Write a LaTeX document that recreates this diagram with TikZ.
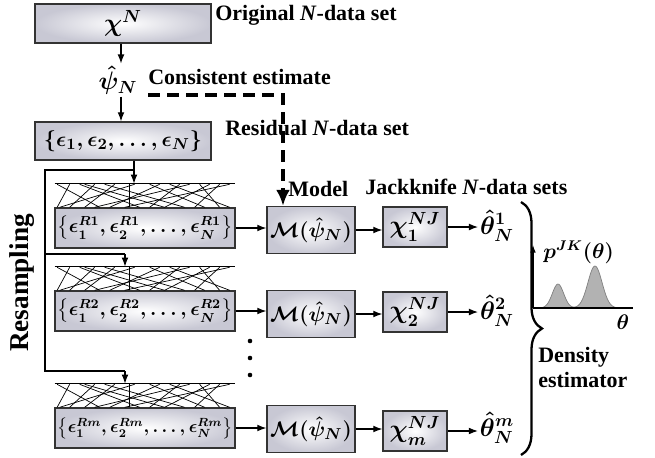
\documentclass[tikz,border=0pt]{standalone}
\usepackage{amsmath, amssymb}
\usepackage{graphicx}
\usepackage{fontspec}
\setmainfont{Liberation Serif}
\usepackage{xcolor}
\usepackage{tikz}
\usetikzlibrary{arrows.meta, positioning, decorations.pathreplacing}

\definecolor{boxedge}{RGB}{200,200,212}
\definecolor{peakgray}{RGB}{178,178,178}

% random crossing lines above a resampled set
\newcommand{\mixlines}[1]{%
  \draw (#1.north west) -- (#1.north east);
  \begin{scope}[shift={(#1.south west)}]
    \foreach \a/\b in {0.05/0.9, 0.3/0.05, 0.5/1.7, 0.8/0.3, 1.0/2.6, 1.2/0.6,
                       1.5/1.5, 1.6/0.1, 1.9/3.0, 2.1/1.1, 2.3/3.5, 2.5/1.9,
                       2.7/0.8, 2.9/3.3, 3.1/2.2, 3.3/2.8, 3.5/1.4, 0.6/2.2}
      \draw (\b,0) -- (\a,0.46);
  \end{scope}
}
% a resampled residual set, squeezed to the box
\newcommand{\rset}[1]{\resizebox{3.5cm}{!}{$\left\{\epsilon_1^{#1},\epsilon_2^{#1},\ldots,\epsilon_N^{#1}\right\}$}}

\begin{document}
\begin{tikzpicture}[
    node distance=0.6cm,
    box/.style={rectangle, draw=black!80, thick, inner color=white, outer color=boxedge, minimum height=0.8cm, align=center, font=\Large\boldmath, inner sep=1pt},
    rbox/.style={box, minimum width=3.6cm, font=\large\boldmath, inner sep=0pt},
    mbox/.style={box, minimum width=1.76cm, minimum height=0.94cm, font=\fontsize{12.8}{15}\selectfont\boldmath},
    jbox/.style={box, minimum width=1.28cm},
    mathlbl/.style={font=\Large\boldmath, inner sep=1pt},
    lbl/.style={font=\fontsize{12.5}{14.5}\selectfont\bfseries, inner sep=0pt, anchor=west, align=left},
    mix/.style={minimum width=3.6cm, minimum height=0.46cm, inner sep=0pt},
    arrow/.style={-{Latex[length=1.8mm]}, semithick},
    dasharrow/.style={-{Latex[length=3.2mm, width=2.8mm]}, line width=1.9pt, dash pattern=on 2.3mm off 1.5mm}
]
\useasboundingbox (0,0) rectangle (13.1,-9.14);

% original data and residuals
\node[box, minimum width=3.52cm, minimum height=0.78cm] (orig) at (2.46,-0.47) {$\chi^N$};
\node[mathlbl] (psi) at (2.36,-1.6) {$\hat{\psi}_N$};
\node[box, minimum width=3.52cm, minimum height=0.76cm, font=\fontsize{13}{15}\selectfont\boldmath] (res) at (2.46,-2.82) {$\{\epsilon_1,\epsilon_2,\ldots,\epsilon_N\}$};

\draw[arrow] (orig.south -| 2.42,0) -- (psi.north -| 2.42,0);
\draw[arrow] (psi.south -| 2.42,0) -- (res.north -| 2.42,0);

% resampled sets
\node[rbox] (R1) at (2.9,-4.56) {\rset{R1}};
\node[rbox] (R2) at (2.9,-6.22) {\rset{R2}};
\node[rbox] (Rm) at (2.9,-8.56) {\rset{Rm}};
\node[mix, above=0pt of R1] (mix1) {};
\node[mix, above=0pt of R2] (mix2) {};
\node[mix, above=0pt of Rm] (mixm) {};
\mixlines{mix1}
\mixlines{mix2}
\mixlines{mixm}

% models
\node[mbox] (M1) at (6.22,-4.6) {$\mathcal{M}(\hat{\psi}_N)$};
\node[mbox] (M2) at (6.22,-6.28) {$\mathcal{M}(\hat{\psi}_N)$};
\node[mbox] (Mm) at (6.22,-8.58) {$\mathcal{M}(\hat{\psi}_N)$};

% jackknife sets
\node[jbox] (J1) at (8.3,-4.54) {$\chi_1^{NJ}$};
\node[jbox] (J2) at (8.3,-6.24) {$\chi_2^{NJ}$};
\node[jbox] (Jm) at (8.3,-8.62) {$\chi_m^{NJ}$};

% estimates
\node[mathlbl] (t1) at (9.94,-4.52) {$\hat{\theta}_N^1$};
\node[mathlbl] (t2) at (9.94,-6.22) {$\hat{\theta}_N^2$};
\node[mathlbl] (tm) at (9.94,-8.56) {$\hat{\theta}_N^m$};

\draw[arrow] (R1.east) -- (R1.east -| M1.west);
\draw[arrow] (R2.east) -- (R2.east -| M2.west);
\draw[arrow] (Rm.east) -- (Rm.east -| Mm.west);
\draw[arrow] (M1.east) -- (M1.east -| J1.west);
\draw[arrow] (M2.east) -- (M2.east -| J2.west);
\draw[arrow] (Mm.east) -- (Mm.east -| Jm.west);
\draw[arrow] (J1.east) -- (J1.east -| t1.west);
\draw[arrow] (J2.east) -- (J2.east -| t2.west);
\draw[arrow] (Jm.east) -- (Jm.east -| tm.west);

% resampling lines
\coordinate (split) at (0.9,-3.4);
\coordinate (tap1) at (2.68,-3.4);
\coordinate (tap2) at (2.5,-5.08);
\coordinate (tap3) at (2.5,-7.42);
\draw[semithick] (tap1) -- (split) |- (tap3);
\draw[semithick] (split |- tap2) -- (tap2);
\draw[arrow] (res.south -| tap1) -- (mix1.north -| tap1);
\draw[arrow] (tap2) -- (mix2.north -| tap2);
\draw[arrow] (tap3) -- (mixm.north -| tap3);

% consistent estimate to model
\coordinate (dstart) at (2.96,-1.9);
\coordinate (dturn) at (5.66,-1.9);
\draw[dasharrow] (dstart) -- (dturn) -- (dturn |- M1.north);

% vertical dots
\fill (5,-6.82) circle (1.3pt);
\fill (5,-7.16) circle (1.3pt);
\fill (5,-7.5) circle (1.3pt);

% brace and density
\coordinate (btop) at (10.42,-4.04);
\coordinate (bbot) at (10.42,-9.1);
\draw[line width=1.3pt, decorate, decoration={brace, amplitude=0.42cm}] (btop) -- (bbot);

\fill[peakgray, draw=gray] plot[domain=10.7:12.64, samples=90, smooth] (\x, {-6.16 + 0.48*exp(-((\x-11.16)/0.16)^2) + 0.84*exp(-((\x-11.9)/0.2)^2)}) -- cycle;
\coordinate (origin) at (10.66,-6.16);
\draw[-{Latex[length=1.5mm]}, semithick] (origin) -- ++(0,1.26);
\draw[semithick] (origin) -- ++(2,0);
\node[font=\large\boldmath, inner sep=0pt, anchor=west] (plbl) at (10.86,-5.04) {$p^{JK}(\theta)$};
\node[font=\large\boldmath, inner sep=0pt] (thlbl) at (12.46,-6.44) {$\theta$};

% labels
\node[lbl] (origlbl) at (4.3,-0.3) {Original \textit{N}-data set};
\node[lbl] (conslbl) at (2.96,-1.54) {Consistent estimate};
\node[lbl] (reslbl) at (4.5,-2.56) {Residual \textit{N}-data set};
\node[lbl] (modellbl) at (5.76,-3.78) {Model};
\node[lbl] (jacklbl) at (7.3,-3.74) {Jackknife \textit{N}-data sets};
\node[lbl, font=\fontsize{15.5}{18}\selectfont\bfseries, rotate=90, anchor=center] (resamplbl) at (0.44,-5.66) {Resampling};
\node[lbl] (denslbl) at (10.76,-7.35) {Density\\estimator};
\end{tikzpicture}
\end{document}
